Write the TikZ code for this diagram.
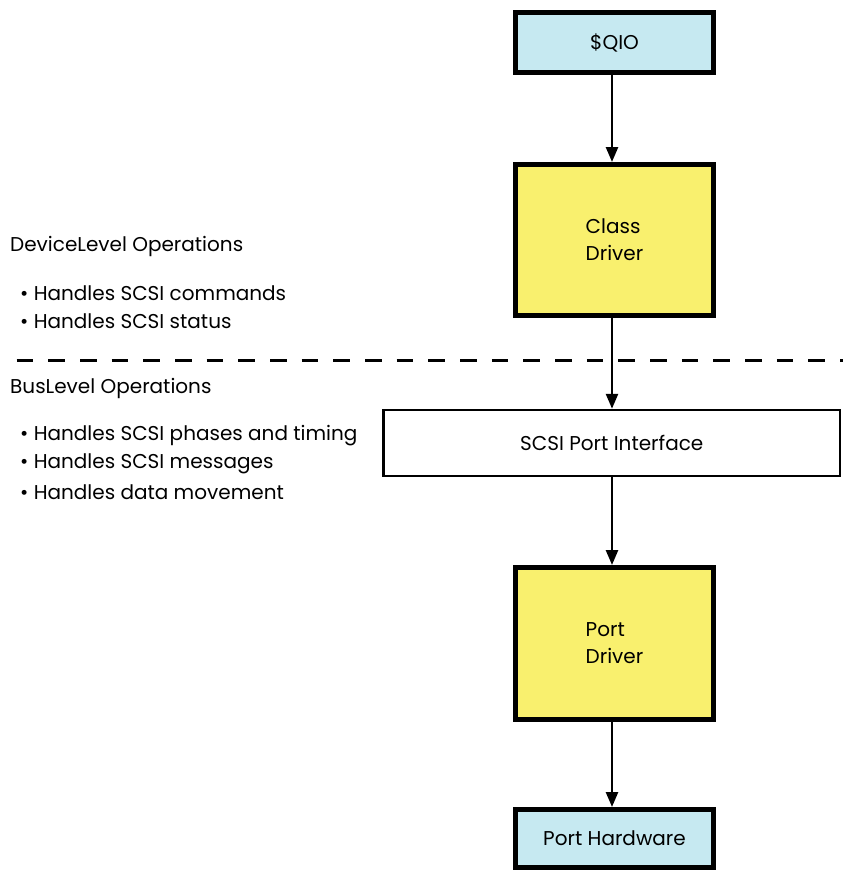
\documentclass[tikz,border=0pt]{standalone}
\usepackage{fontspec}
\setmainfont{Poppins}
\usetikzlibrary{arrows.meta}
\definecolor{boxblue}{RGB}{198,233,241}
\definecolor{boxyellow}{RGB}{249,240,110}
\tikzset{
  thickbox/.style={draw=black, line width=5pt, minimum width=198pt, align=left, inner sep=0pt, font=\fontsize{20}{27}\selectfont},
  bluebox/.style={thickbox, fill=boxblue},
  yellowbox/.style={thickbox, fill=boxyellow},
  thinbox/.style={draw=black, line width=2.5pt, fill=white, inner sep=0pt, font=\fontsize{20}{28}\selectfont},
  flow/.style={line width=2.5pt, -{Triangle[length=15pt,width=12pt]}},
  sidetext/.style={anchor=west, inner sep=0pt, font=\fontsize{20}{28}\selectfont},
  divider/.style={line width=3pt, dash pattern=on 16.5pt off 15.17pt}
}
\begin{document}
\begin{tikzpicture}[x=1pt,y=-1pt]
\useasboundingbox (0,0) rectangle (843,871);
\node[bluebox, minimum height=60pt] (qio) at (614.5,42.5) {\$QIO};
\node[yellowbox, minimum height=151pt] (cd) at (614.5,240) {Class\\Driver};
\node[thinbox, minimum width=456.5pt, minimum height=66pt] (spi) at (611.75,443) {SCSI Port Interface};
\node[yellowbox, minimum height=152pt] (pd) at (614.5,643.5) {Port\\Driver};
\node[bluebox, minimum height=58pt] (ph) at (614.5,838.5) {Port Hardware};
\draw[flow] ([xshift=-2.5pt]qio.south) -- ([xshift=-2.5pt]cd.north);
\draw[flow] ([xshift=-2.5pt]cd.south) -- ([xshift=-2.5pt]spi.north -| cd.south);
\draw[flow] ([xshift=-2.5pt]spi.south -| pd.north) -- ([xshift=-2.5pt]pd.north);
\draw[flow] ([xshift=-2.5pt]pd.south) -- ([xshift=-2.5pt]ph.north);
\coordinate (dl) at (16.7,360);
\coordinate (dr) at (843,360);
\draw[divider] (dl) -- (dr);
\node[sidetext] (t1) at (10,246) {DeviceLevel Operations};
\node[sidetext] (t2) at (20,293) {• Handles SCSI commands};
\node[sidetext] (t3) at (20,321) {• Handles SCSI status};
\node[sidetext] (t4) at (10,388) {BusLevel Operations};
\node[sidetext] (t5) at (20,436) {• Handles SCSI phases and timing};
\node[sidetext] (t6) at (20,464) {• Handles SCSI messages};
\node[sidetext] (t7) at (20,492) {• Handles data movement};
\end{tikzpicture}
\end{document}
